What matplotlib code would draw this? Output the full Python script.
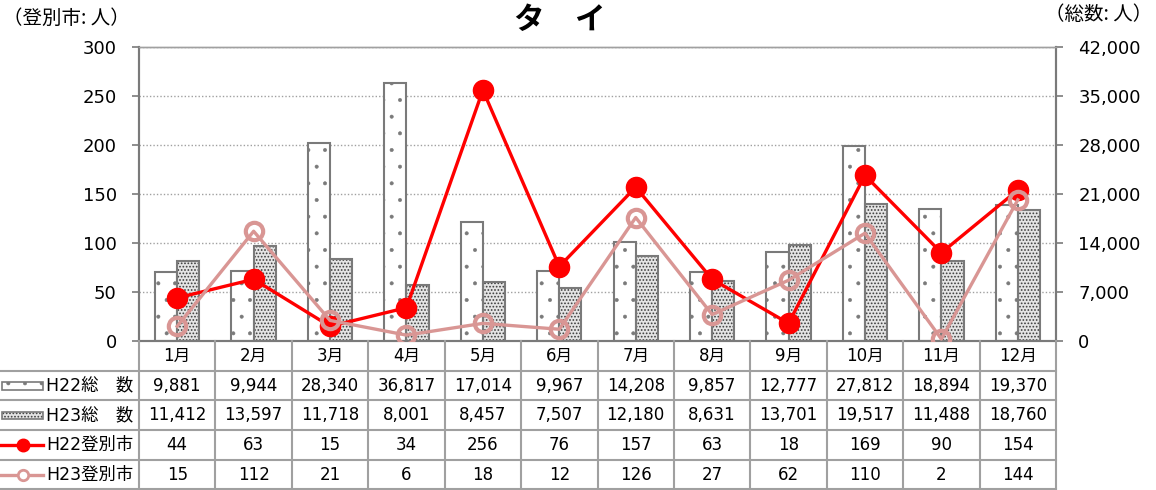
import matplotlib
matplotlib.use('Agg')
import matplotlib.pyplot as plt
import numpy as np
from matplotlib.patches import Rectangle
from matplotlib.lines import Line2D

plt.rcParams['font.family'] = ['DejaVu Sans', 'Noto Sans CJK JP']
plt.rcParams['hatch.linewidth'] = 0.4

# data
months = ['1月', '2月', '3月', '4月', '5月', '6月', '7月', '8月', '9月', '10月', '11月', '12月']
h22_total = [9881, 9944, 28340, 36817, 17014, 9967, 14208, 9857, 12777, 27812, 18894, 19370]
h23_total = [11412, 13597, 11718, 8001, 8457, 7507, 12180, 8631, 13701, 19517, 11488, 18760]
h22_city = [44, 63, 15, 34, 256, 76, 157, 63, 18, 169, 90, 154]
h23_city = [15, 112, 21, 6, 18, 12, 126, 27, 62, 110, 2, 144]
row_labels = ['H22総　数', 'H23総　数', 'H22登別市', 'H23登別市']

RED = '#FF0000'
PINK = '#D99694'
GRID = '#A0A0A0'
EDGE = '#7A7A7A'
H23_FACE = '#e4e4e4'
H23_DOT = '#3c3c3c'

W, H = 1156, 490
fig = plt.figure(figsize=(W / 100, H / 100), dpi=100)

# plot area in pixels
px_l, px_r, px_t, px_b = 139, 1056, 47, 341
axb = fig.add_axes([px_l / W, 1 - px_b / H, (px_r - px_l) / W, (px_b - px_t) / H])
axl = axb.twinx()

x = np.arange(len(months))
bw = 0.29
axb.bar(x - bw / 2, h22_total, bw, facecolor='white', edgecolor=EDGE, hatch='.', lw=1.5, zorder=2)
with plt.rc_context({'hatch.linewidth': 0.8}):
    axb.bar(x + bw / 2, h23_total, bw, facecolor=H23_FACE, edgecolor=H23_DOT, hatch='.....', lw=0, zorder=2)
axb.bar(x + bw / 2, h23_total, bw, facecolor='none', edgecolor=EDGE, lw=1.5, zorder=2)
axb.set_ylim(0, 42000)
axb.set_yticks(np.arange(0, 42001, 7000))
axb.set_yticklabels([f'{v:,}' for v in range(0, 42001, 7000)])
axb.yaxis.tick_right()
axb.set_xlim(-0.5, 11.5)
axb.set_xticks([])
axb.grid(axis='y', color=GRID, ls=(0, (1, 1.5)), lw=1, zorder=0)
axb.set_axisbelow(True)

axl.plot(x, h22_city, color=RED, lw=2.4, marker='o', ms=14.5, mfc=RED, mec=RED, zorder=3)
axl.plot(x, h23_city, color=PINK, lw=2.4, marker='o', ms=12.5, mfc='none', mec=PINK, mew=3, zorder=4)
axl.set_ylim(0, 300)
axl.set_yticks(np.arange(0, 301, 50))
axl.yaxis.tick_left()

for a in (axb, axl):
    a.tick_params(axis='y', labelsize=13, length=5, width=1.2, color=EDGE, pad=11)
    for s in a.spines.values():
        s.set_color(EDGE)
        s.set_linewidth(1.5)
    a.spines['top'].set_color(GRID)
    a.spines['top'].set_linewidth(1)

fig.text(3 / W, 1 - 18 / H, '（登別市: 人）', fontsize=14, va='center', ha='left',
         family=['Noto Sans CJK JP'])
fig.text(1152 / W, 1 - 14 / H, '（総数: 人）', fontsize=14, va='center', ha='right',
         family=['Noto Sans CJK JP'])
fig.text(560 / W, 1 - 20 / H, 'タ　イ', fontsize=22, fontweight='bold', va='center', ha='center',
         family=['Noto Sans CJK JP'])

# data table under the plot
unit = (px_r - px_l) / 12
lab_w = px_l / unit
tax = fig.add_axes([0, 0, px_r / W, (H - px_b) / H])
x0 = -0.5 - lab_w
tax.set_xlim(x0, 11.5)
tax.set_ylim(5.02, 0)
tax.axis('off')

tcol = '#A0A0A0'
for r in range(1, 6):
    tax.plot([x0, 11.5], [r, r], color=tcol, lw=1.5, clip_on=False)
for c in range(13):
    tax.plot([c - 0.5, c - 0.5], [0, 5], color=tcol, lw=1.5, clip_on=False)

fs = 12
for i, m in enumerate(months):
    tax.text(i, 0.5, m, ha='center', va='center', fontsize=fs)
rows = [h22_total, h23_total, h22_city, h23_city]
for r, vals in enumerate(rows):
    for i, v in enumerate(vals):
        tax.text(i, r + 1.5, f'{v:,}', ha='center', va='center', fontsize=fs)

# legend keys in the label column
kx0 = x0 + 2 / unit
kx1 = x0 + 43 / unit
tax.add_patch(Rectangle((kx0, 1.38), kx1 - kx0, 0.26, facecolor='white', edgecolor=EDGE,
                        hatch='.', lw=1.2))
with plt.rc_context({'hatch.linewidth': 0.8}):
    tax.add_patch(Rectangle((kx0, 2.38), kx1 - kx0, 0.26, facecolor=H23_FACE, edgecolor=H23_DOT,
                            hatch='.....', lw=0))
tax.add_patch(Rectangle((kx0, 2.38), kx1 - kx0, 0.26, facecolor='none', edgecolor=EDGE, lw=1.2))
tax.add_line(Line2D([x0, kx1], [3.5, 3.5], color=RED, lw=2.4))
tax.plot([(x0 + kx1) / 2 + 0.02], [3.5], marker='o', ms=9, color=RED)
tax.add_line(Line2D([x0, kx1], [4.5, 4.5], color=PINK, lw=2.4))
tax.plot([(x0 + kx1) / 2 + 0.02], [4.5], marker='o', ms=7.5, mfc='white', mec=PINK, mew=2)
for r, lab in enumerate(row_labels):
    tax.text(x0 + 46 / unit, r + 1.5, lab, ha='left', va='center', fontsize=12.5,
             family=['DejaVu Sans', 'Noto Sans CJK JP'])

fig.savefig('out.png', dpi=100)
